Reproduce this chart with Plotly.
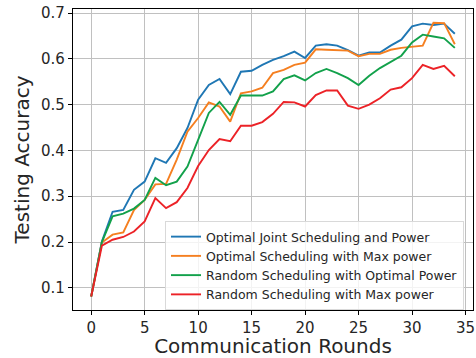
import plotly.graph_objects as go

rounds = list(range(35))

optimal_joint = [0.081, 0.201, 0.266, 0.270, 0.314, 0.332, 0.383, 0.373, 0.405, 0.449,
                 0.511, 0.543, 0.556, 0.523, 0.572, 0.574, 0.587, 0.598, 0.606, 0.616,
                 0.602, 0.629, 0.632, 0.629, 0.619, 0.607, 0.614, 0.614, 0.629, 0.642,
                 0.671, 0.677, 0.674, 0.677, 0.655]
optimal_sched_max = [0.081, 0.199, 0.216, 0.221, 0.270, 0.292, 0.326, 0.327, 0.380, 0.441,
                     0.471, 0.505, 0.496, 0.463, 0.525, 0.529, 0.537, 0.569, 0.576, 0.587,
                     0.592, 0.621, 0.620, 0.619, 0.618, 0.606, 0.611, 0.611, 0.620, 0.624,
                     0.627, 0.629, 0.679, 0.678, 0.632]
random_sched_opt = [0.081, 0.200, 0.256, 0.262, 0.273, 0.292, 0.340, 0.324, 0.332, 0.365,
                    0.423, 0.482, 0.506, 0.478, 0.520, 0.520, 0.520, 0.529, 0.556, 0.564,
                    0.553, 0.569, 0.578, 0.569, 0.558, 0.543, 0.563, 0.580, 0.594, 0.607,
                    0.636, 0.653, 0.649, 0.645, 0.624]
random_sched_max = [0.081, 0.192, 0.205, 0.211, 0.223, 0.245, 0.296, 0.274, 0.287, 0.318,
                    0.366, 0.401, 0.425, 0.420, 0.454, 0.454, 0.462, 0.480, 0.506, 0.505,
                    0.496, 0.521, 0.531, 0.531, 0.498, 0.491, 0.500, 0.514, 0.533, 0.538,
                    0.558, 0.587, 0.578, 0.585, 0.562]

series_names = ["Optimal Joint Scheduling and Power",
                "Optimal Scheduling with Max power",
                "Random Scheduling with Optimal Power",
                "Random Scheduling with Max power"]
series_values = [optimal_joint, optimal_sched_max, random_sched_opt, random_sched_max]
colors = ["#1f77b4", "#f57f20", "#12a14b", "#ec2227"]

x_ticks = [0, 5, 10, 15, 20, 25, 30, 35]
y_ticks = [0.1, 0.2, 0.3, 0.4, 0.5, 0.6, 0.7]

fig = go.Figure()
for name, vals, c in zip(series_names, series_values, colors):
    fig.add_trace(go.Scatter(x=rounds, y=vals, mode="lines", name=name,
                             line=dict(color=c, width=1.9)))

font_fam = "DejaVu Sans"
txt = "#262626"
fig.update_layout(
    width=476, height=358,
    margin=dict(l=73, r=3, t=9, b=48),
    plot_bgcolor="white", paper_bgcolor="white",
    font=dict(family=font_fam, color=txt),
    showlegend=True,
    legend=dict(x=0.23, y=0.0, xanchor="left", yanchor="bottom",
                bgcolor="rgba(255,255,255,0.8)", bordercolor="#d9d9d9", borderwidth=1,
                font=dict(size=12.5, family=font_fam, color=txt),
                itemwidth=30, tracegroupgap=0),
    xaxis=dict(range=[-1.7, 35.7], tickvals=x_ticks, showgrid=True, gridcolor="#c0c0c0",
               gridwidth=1, showline=True, mirror=True, linecolor="black", linewidth=1.2,
               ticks="outside", ticklen=4, tickcolor="black", zeroline=False,
               tickfont=dict(size=15, color=txt), automargin=False,
               title=dict(text="Communication Rounds", font=dict(size=20, color=txt), standoff=6)),
    yaxis=dict(range=[0.0515, 0.709], tickvals=y_ticks, tickformat=".1f", showgrid=True,
               gridcolor="#c0c0c0", gridwidth=1, showline=True, mirror=True, linecolor="black",
               linewidth=1.2, ticks="outside", ticklen=4, tickcolor="black", zeroline=False,
               tickfont=dict(size=15, color=txt), automargin=False,
               title=dict(text="Testing Accuracy", font=dict(size=20, color=txt), standoff=6)),
)

fig.write_html("out.html", config={"displayModeBar": False},
               post_script="document.body.style.margin='0';document.body.style.padding='0';")
